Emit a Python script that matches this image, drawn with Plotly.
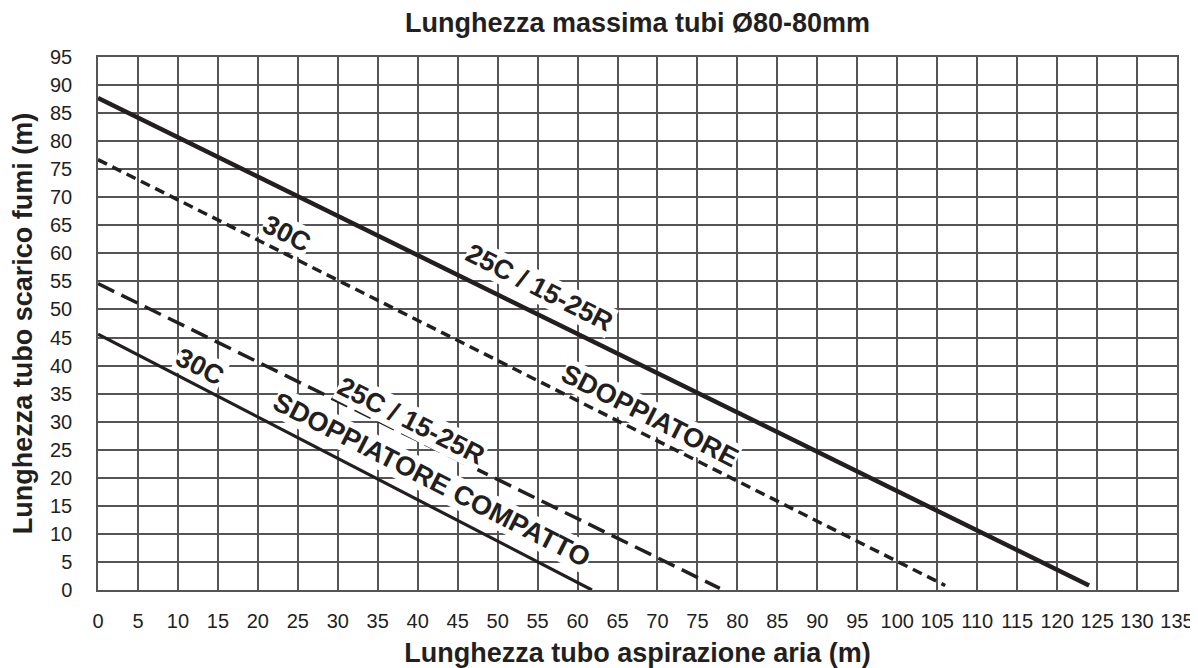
import plotly.graph_objects as go

# Data: (air intake length, flue length) endpoints of each limit line
line_a_x = [0, 124]        # 25C / 15-25R SDOPPIATORE (solid)
line_a_y = [87.7, 0.8]
line_b_x = [0, 106]        # 30C SDOPPIATORE (short dash)
line_b_y = [76.7, 0.8]
line_c_x = [0, 77.8]       # 25C / 15-25R SDOPPIATORE COMPATTO (long dash)
line_c_y = [54.6, 0.3]
line_d_x = [0, 61.8]       # 30C SDOPPIATORE COMPATTO (thin solid)
line_d_y = [45.6, 0.0]

label_text = ["25C / 15-25R", "SDOPPIATORE", "30C", "30C", "25C / 15-25R", "SDOPPIATORE COMPATTO"]
label_x = [55.3, 69.1, 23.7, 12.8, 39.2, 41.8]
label_y = [53.8, 31.1, 63.5, 39.7, 30.2, 19.6]

x_ticks = list(range(0, 136, 5))
y_ticks = list(range(0, 96, 5))

INK = "#231f20"
GRID = "#555555"
FONT = "Liberation Sans, Arial, Helvetica, sans-serif"

fig = go.Figure()
fig.add_trace(go.Scatter(x=line_a_x, y=line_a_y, mode="lines",
                         line=dict(color=INK, width=4.5), showlegend=False))
fig.add_trace(go.Scatter(x=line_b_x, y=line_b_y, mode="lines",
                         line=dict(color=INK, width=3.5, dash="10px,6px"), showlegend=False))
fig.add_trace(go.Scatter(x=line_c_x, y=line_c_y, mode="lines",
                         line=dict(color=INK, width=3.5, dash="18px,8px"), showlegend=False))
fig.add_trace(go.Scatter(x=line_d_x, y=line_d_y, mode="lines",
                         line=dict(color=INK, width=3.2), showlegend=False))

for t, x, y in zip(label_text, label_x, label_y):
    fig.add_annotation(x=x, y=y, text="<b>%s</b>" % t, showarrow=False,
                       textangle=27, bgcolor="white", borderpad=0,
                       font=dict(family=FONT, size=27, color=INK))

axis_common = dict(showgrid=True, gridcolor=GRID, gridwidth=1.5,
                   showline=True, linecolor=GRID, linewidth=1.5, mirror=True,
                   zeroline=False, ticks="", automargin=False,
                   tickfont=dict(family=FONT, size=20, color=INK))

# The page adds an 8px body margin, so the figure is 8px smaller than the window
fig.update_layout(
    width=1190, height=660,
    margin=dict(l=90, r=21, t=49, b=78),
    paper_bgcolor="white", plot_bgcolor="white",
    title=dict(text="<b>Lunghezza massima tubi Ø80-80mm</b>",
               x=0.5, xref="paper", xanchor="center",
               y=1 - 15 / 660, yref="container", yanchor="middle",
               font=dict(family=FONT, size=27, color=INK)),
    xaxis=dict(range=[0, 135], tickvals=x_ticks, ticktext=[str(v) for v in x_ticks],
               ticklabelstandoff=12,
               title=dict(text="<b>Lunghezza tubo aspirazione aria (m)</b>", standoff=14,
                          font=dict(family=FONT, size=27, color=INK)),
               **axis_common),
    yaxis=dict(range=[0, 95], tickvals=y_ticks, ticktext=[str(v) for v in y_ticks],
               ticklabelstandoff=20,
               title=dict(text="<b>Lunghezza tubo scarico fumi (m)</b>", standoff=17,
                          font=dict(family=FONT, size=27, color=INK)),
               **axis_common),
)

fig.write_html("out.html")
